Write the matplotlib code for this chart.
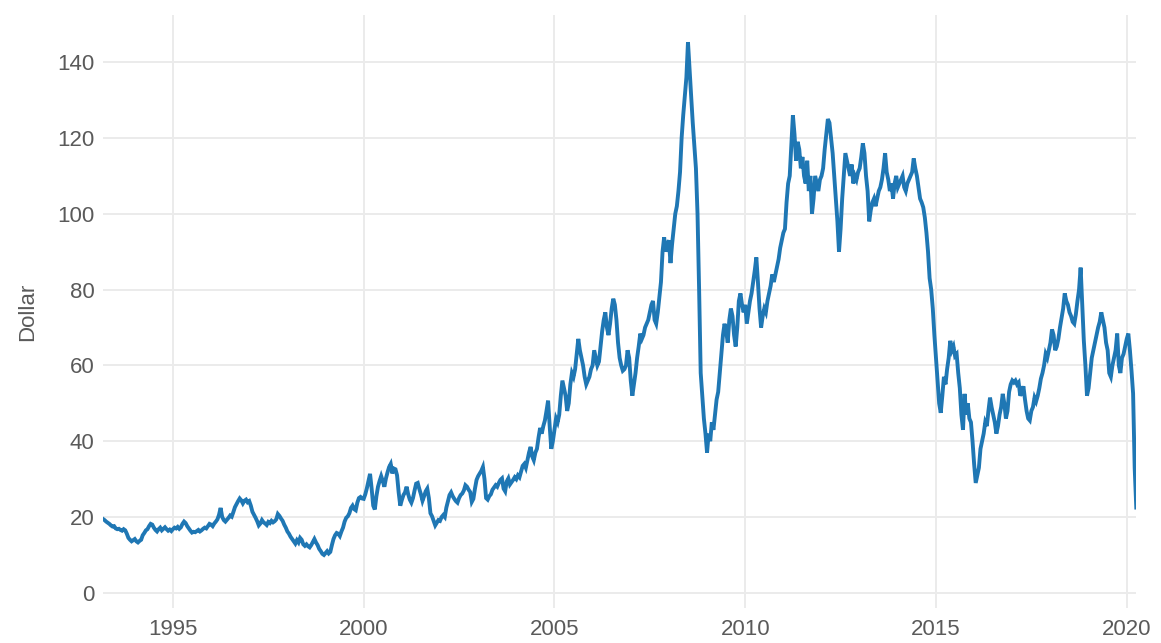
import numpy as np
import matplotlib
matplotlib.use("Agg")
import matplotlib.pyplot as plt

plt.rcParams['font.family'] = ['Liberation Sans', 'DejaVu Sans']

# semi-monthly prices (dollar); 1993 starts in March
p1993 = [19.5, 19.2, 18.8, 18.5, 18.2, 17.8, 17.5, 17.6, 17.0, 16.8, 16.9, 16.6,
         16.4, 16.8, 16.5, 15.6, 14.5, 14.0, 13.6, 13.9]
p1994 = [14.2, 13.6, 13.3, 13.7, 14.0, 15.2, 15.8, 16.5, 16.8, 17.6, 18.2, 18.0,
         17.2, 16.6, 16.2, 16.8, 17.2, 16.5, 16.9, 17.3, 16.8, 16.4, 16.7, 16.3]
p1995 = [16.8, 17.2, 17.0, 17.4, 16.9, 17.3, 18.2, 18.8, 18.4, 17.6, 17.0, 16.4,
         15.9, 16.1, 16.0, 16.3, 16.6, 16.2, 16.5, 16.9, 17.2, 17.0, 17.6, 18.2]
p1996 = [18.0, 17.6, 18.3, 18.8, 19.4, 20.6, 22.4, 20.0, 19.2, 18.8, 19.3, 19.8,
         20.4, 20.1, 21.3, 22.6, 23.4, 24.2, 24.9, 24.4, 23.6, 24.3, 24.6, 23.9]
p1997 = [24.2, 23.0, 21.4, 20.6, 19.8, 18.9, 17.8, 18.3, 19.2, 18.6, 18.3, 17.9,
         18.7, 18.4, 19.0, 18.6, 18.9, 19.4, 20.8, 20.3, 19.6, 19.0, 18.0, 17.2]
p1998 = [16.2, 15.6, 14.8, 14.2, 13.6, 13.0, 13.9, 13.3, 14.5, 14.0, 12.8, 12.4,
         12.8, 12.3, 12.0, 12.6, 13.4, 14.2, 13.3, 12.6, 11.6, 11.0, 10.3, 10.0]
p1999 = [10.5, 11.0, 10.4, 10.8, 12.6, 14.2, 15.2, 15.8, 15.6, 15.0, 16.2, 17.2,
         18.8, 19.8, 20.2, 21.0, 22.4, 23.0, 22.1, 21.8, 23.8, 25.0, 25.3, 24.9]
p2000 = [24.8, 26.0, 27.6, 29.5, 31.4, 27.5, 23.0, 22.0, 25.5, 28.0, 29.5, 30.8,
         29.5, 28.0, 30.2, 31.8, 33.2, 34.0, 31.5, 32.8, 32.6, 31.0, 26.5, 23.0]
p2001 = [24.5, 25.8, 26.5, 28.0, 26.0, 24.6, 23.8, 25.0, 27.0, 28.8, 29.0, 27.4,
         26.0, 24.3, 25.5, 26.8, 27.5, 25.0, 21.0, 20.2, 19.0, 17.8, 18.5, 19.2]
p2002 = [19.0, 20.0, 20.5, 20.0, 22.5, 24.2, 25.8, 26.5, 25.5, 24.8, 24.2, 23.8,
         25.0, 25.8, 26.2, 27.0, 28.4, 28.0, 27.2, 26.6, 24.0, 24.8, 27.5, 29.8]
p2003 = [30.8, 31.5, 32.2, 33.2, 30.0, 25.0, 24.6, 25.5, 26.0, 27.2, 27.8, 28.4,
         28.0, 29.0, 29.8, 30.2, 27.5, 26.8, 29.4, 30.2, 28.6, 29.2, 29.8, 30.5]
p2004 = [30.0, 31.0, 30.5, 32.0, 33.5, 34.0, 33.0, 35.0, 37.0, 38.5, 36.0, 35.0,
         37.0, 38.0, 41.0, 43.5, 42.0, 44.0, 45.5, 48.0, 50.7, 44.0, 38.0, 40.0]
p2005 = [43.0, 46.0, 45.0, 47.0, 52.0, 56.0, 54.0, 52.0, 48.0, 50.0, 55.0, 58.0,
         57.0, 59.0, 63.0, 67.0, 64.0, 62.0, 60.0, 57.0, 55.0, 56.0, 57.0, 59.0]
p2006 = [60.0, 64.0, 62.0, 60.0, 61.0, 65.0, 69.0, 72.0, 74.0, 70.0, 68.0, 71.0,
         75.0, 77.6, 76.0, 72.0, 66.0, 62.0, 60.0, 58.6, 59.0, 60.0, 64.0, 62.0]
p2007 = [56.0, 52.0, 55.0, 58.0, 62.0, 65.0, 68.4, 67.0, 68.0, 70.0, 71.0, 72.0,
         74.0, 76.0, 77.0, 72.0, 71.0, 74.0, 78.0, 82.0, 90.0, 93.8, 90.0, 92.0]
p2008 = [93.0, 87.0, 92.0, 96.0, 100.0, 102.0, 106.0, 111.0, 120.0, 126.0, 131.0, 136.0,
         145.3, 138.0, 131.0, 124.0, 118.0, 112.0, 100.0, 80.0, 58.0, 52.0, 46.0, 42.0]
p2009 = [37.0, 42.0, 40.0, 45.0, 43.0, 47.0, 51.0, 53.0, 58.0, 63.0, 68.0, 71.0,
         69.0, 66.0, 72.0, 75.0, 73.0, 68.0, 65.0, 70.0, 77.0, 79.0, 76.0, 74.0]
p2010 = [76.0, 71.0, 74.0, 77.0, 79.0, 82.0, 85.0, 88.5, 82.0, 75.0, 70.0, 73.0,
         75.0, 74.0, 77.0, 79.0, 81.0, 84.0, 82.0, 84.0, 86.0, 88.0, 91.0, 93.0]
p2011 = [95.0, 96.0, 103.0, 108.0, 110.0, 118.0, 126.0, 121.0, 114.0, 119.0, 117.0, 112.0,
         115.0, 110.0, 108.0, 114.0, 106.0, 110.0, 100.0, 104.0, 110.0, 108.0, 106.0, 109.0]
p2012 = [110.0, 112.0, 117.0, 121.0, 125.0, 124.0, 120.0, 116.0, 110.0, 104.0, 98.0, 90.0,
         96.0, 104.0, 110.0, 116.0, 114.0, 112.0, 110.0, 113.0, 108.0, 110.0, 109.0, 111.0]
p2013 = [112.0, 115.0, 118.6, 116.0, 110.0, 106.0, 98.0, 101.0, 103.0, 104.0, 102.0, 104.0,
         106.0, 107.0, 109.0, 112.0, 116.0, 111.0, 109.0, 106.0, 108.0, 104.0, 108.0, 110.0]
p2014 = [107.0, 108.0, 109.0, 110.0, 107.0, 106.0, 108.0, 109.0, 110.0, 111.0, 114.6, 112.0,
         110.0, 107.0, 104.0, 103.0, 101.7, 99.0, 95.0, 90.0, 83.0, 80.0, 75.0, 68.0]
p2015 = [62.0, 56.0, 50.0, 47.5, 52.0, 57.0, 55.0, 59.0, 62.0, 66.5, 64.0, 65.0,
         62.5, 63.0, 58.0, 54.0, 47.0, 43.0, 52.5, 47.0, 50.0, 46.0, 45.0, 40.0]
p2016 = [34.0, 29.0, 31.0, 33.0, 38.0, 40.0, 42.0, 45.0, 44.0, 48.0, 51.5, 49.0,
         47.0, 45.0, 42.0, 44.0, 47.0, 49.0, 52.5, 50.0, 46.0, 48.0, 53.0, 55.0]
p2017 = [56.0, 55.5, 56.0, 55.0, 55.5, 52.0, 53.0, 54.5, 51.0, 48.0, 46.0, 45.5,
         48.0, 49.0, 51.5, 50.5, 52.0, 54.0, 56.5, 58.0, 60.0, 63.0, 62.0, 64.0]
p2018 = [66.0, 69.5, 68.0, 64.0, 65.0, 67.0, 70.0, 72.5, 75.0, 79.0, 77.0, 76.0,
         74.0, 73.0, 71.5, 71.0, 73.5, 77.0, 80.0, 85.8, 76.0, 66.6, 60.0, 52.0]
p2019 = [54.0, 58.0, 62.0, 64.0, 66.0, 68.0, 70.0, 71.5, 74.0, 72.0, 70.0, 66.0,
         64.0, 58.0, 57.0, 60.0, 62.0, 64.0, 68.4, 60.0, 58.0, 62.0, 63.0, 65.0]
p2020 = [67.0, 68.4, 64.0, 58.6, 52.6, 33.0, 22.5]

years = list(range(1993, 2021))
series = [p1993, p1994, p1995, p1996, p1997, p1998, p1999, p2000, p2001, p2002,
          p2003, p2004, p2005, p2006, p2007, p2008, p2009, p2010, p2011, p2012,
          p2013, p2014, p2015, p2016, p2017, p2018, p2019, p2020]

x = []
y = []
for yr, vals in zip(years, series):
    offset = 4 if yr == 1993 else 0  # first value is March 1993
    for k, v in enumerate(vals):
        x.append(yr + (k + offset) / 24.0)
        y.append(v)
x = np.array(x)
y = np.array(y)

fig = plt.figure(figsize=(11.61, 6.43), dpi=100)
ax = fig.add_axes([0.0887, 0.0544, 0.890, 0.922])

ax.plot(x, y, color='#1f77b4', lw=2.8, solid_joinstyle='miter')

ax.set_xlim(x.min(), x.max())
ax.set_ylim(-4, 152.4)
ax.set_yticks(np.arange(0, 141, 20))
ax.set_xticks([1995, 2000, 2005, 2010, 2015, 2020])

ax.grid(True, color='#ebebeb', lw=1.4)
ax.set_axisbelow(True)
for s in ax.spines.values():
    s.set_visible(False)
ax.tick_params(length=0, labelsize=16, colors='#5a5a5a')
ax.tick_params(axis='y', pad=6)
ax.tick_params(axis='x', pad=8)
ax.set_ylabel('Dollar', fontsize=16, color='#5a5a5a', labelpad=14)

plt.savefig('out.png', dpi=100)
